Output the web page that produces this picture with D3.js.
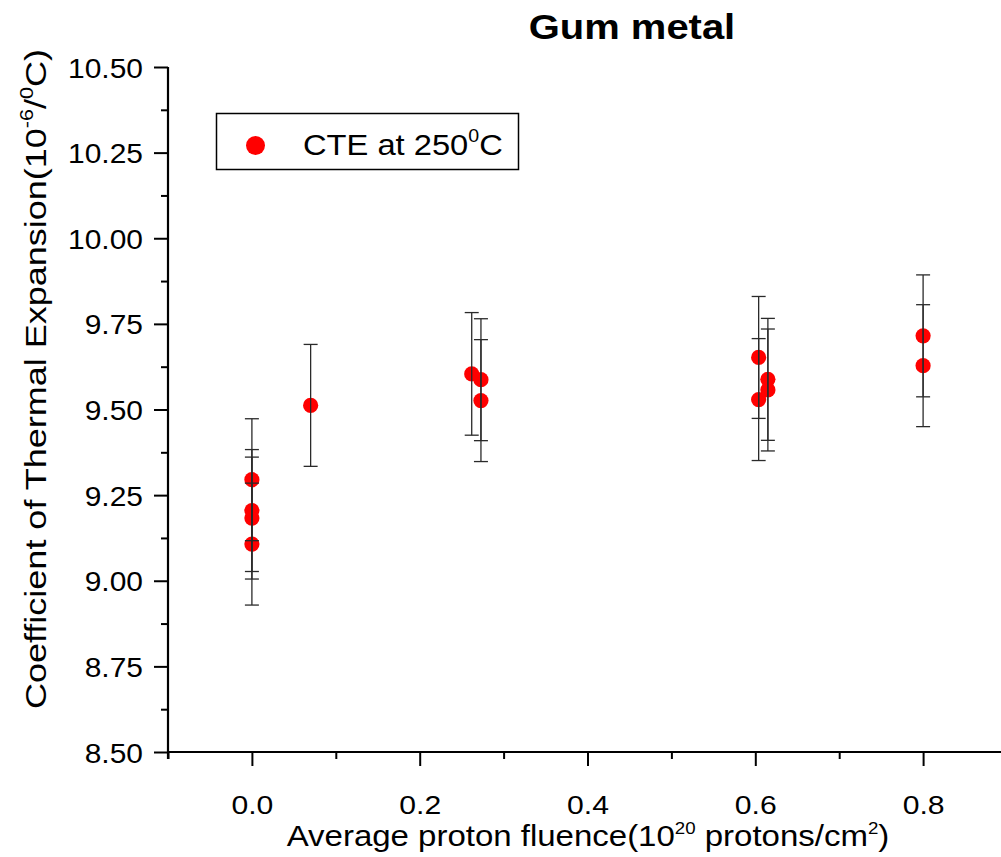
<!DOCTYPE html>
<html>
<head>
<meta charset="utf-8">
<script src="https://cdn.jsdelivr.net/npm/d3@7"></script>
<style>
  html, body { margin: 0; padding: 0; background: #fff; }
  svg { display: block; }
  text { font-family: "Liberation Sans", Arial, sans-serif; fill: #000; }
</style>
</head>
<body>
<svg id="chart" width="1001" height="857"></svg>
<script>
// ---- data ----
const fluence = [0, 0, 0, 0, 0.07, 0.262, 0.273, 0.273, 0.604, 0.604, 0.615, 0.615, 0.8, 0.8];
const cte     = [9.295, 9.205, 9.183, 9.107, 9.512, 9.604, 9.587, 9.526, 9.652, 9.529, 9.588, 9.557, 9.715, 9.628];
const cteErr  = [0.178, 0.178, 0.178, 0.178, 0.178, 0.179, 0.178, 0.178, 0.178, 0.178, 0.178, 0.178, 0.178, 0.178];
const xTicks  = [0.0, 0.2, 0.4, 0.6, 0.8];
const xMinor  = [-0.1, 0.1, 0.3, 0.5, 0.7];
const yTicks  = [8.50, 8.75, 9.00, 9.25, 9.50, 9.75, 10.00, 10.25, 10.50];
const yMinor  = [8.625, 8.875, 9.125, 9.375, 9.625, 9.875, 10.125, 10.375];
const titleText = "Gum metal";
const legendLabel = "CTE at 250";

const svg = d3.select("#chart");
const x = d3.scaleLinear().domain([-0.1, 0.9]).range([168, 1007]);
const y = d3.scaleLinear().domain([8.5, 10.5]).range([752, 67]);

// points
svg.append("g").selectAll("circle").data(fluence).join("circle")
  .attr("cx", d => x(d)).attr("cy", (d, i) => y(cte[i])).attr("r", 7.6)
  .attr("fill", "#ff0000");

// error bars (drawn over the points, as in the reference)
const eb = svg.append("g").attr("stroke", "#2a2a2a").attr("stroke-width", 1.3).attr("fill", "none");
fluence.forEach((f, i) => {
  const cx = x(f), y1 = y(cte[i] + cteErr[i]), y2 = y(cte[i] - cteErr[i]);
  eb.append("line").attr("x1", cx).attr("x2", cx).attr("y1", y1).attr("y2", y2);
  eb.append("line").attr("x1", cx - 7).attr("x2", cx + 7).attr("y1", y1).attr("y2", y1);
  eb.append("line").attr("x1", cx - 7).attr("x2", cx + 7).attr("y1", y2).attr("y2", y2);
});

// axes
const axY = svg.append("g").attr("transform", "translate(168,0)");
axY.call(d3.axisLeft(y).tickValues(yTicks).tickSize(14).tickFormat(d3.format(".2f")));
axY.append("g").call(d3.axisLeft(y).tickValues(yMinor).tickSize(7).tickFormat(""));
const axX = svg.append("g").attr("transform", "translate(0,752)");
axX.call(d3.axisBottom(x).tickValues(xTicks).tickSize(14).tickFormat(d3.format(".1f")));
axX.append("g").call(d3.axisBottom(x).tickValues(xMinor).tickSize(7).tickFormat(""));
svg.selectAll(".domain").attr("stroke", "#000").attr("stroke-width", 2.2);
svg.selectAll(".tick line").attr("stroke", "#000").attr("stroke-width", 2);
axX.selectAll(".domain").attr("d", "M168,0H1001");
axY.selectAll(".domain").attr("d", "M0,67V759");
axY.selectAll("g > .domain").filter(function(){ return this.parentNode !== axY.node(); }).remove();
axX.selectAll("g > .domain").filter(function(){ return this.parentNode !== axX.node(); }).remove();

axY.selectAll(".tick text")
  .attr("font-size", 28).attr("font-family", '"Liberation Sans", Arial, sans-serif')
  .attr("x", null).attr("dy", null).attr("text-anchor", "end")
  .attr("transform", "translate(-25,10) scale(1.07,1)");
axX.selectAll(".tick text")
  .attr("font-size", 26).attr("font-family", '"Liberation Sans", Arial, sans-serif')
  .attr("y", null).attr("dy", null).attr("text-anchor", "middle")
  .attr("transform", "translate(0,62) scale(1.16,1)");

// title
svg.append("text").attr("transform", "translate(632,39) scale(1.11,1)")
  .attr("text-anchor", "middle").attr("font-size", 36).attr("font-weight", "bold")
  .text(titleText);

// x label
const xl = svg.append("text").attr("transform", "translate(588,846) scale(1.1,1)")
  .attr("text-anchor", "middle").attr("font-size", 30);
xl.append("tspan").text("Average proton fluence(10");
xl.append("tspan").attr("font-size", 17).attr("dy", -12).text("20");
xl.append("tspan").attr("dy", 12).text(" protons/cm");
xl.append("tspan").attr("font-size", 17).attr("dy", -12).text("2");
xl.append("tspan").attr("dy", 12).text(")");

// y label
const yl = svg.append("text").attr("transform", "translate(46,379) rotate(-90) scale(1.2,1)")
  .attr("text-anchor", "middle").attr("font-size", 30);
yl.append("tspan").text("Coefficient of Thermal Expansion(10");
yl.append("tspan").attr("font-size", 18).attr("dy", -13).text("-6");
yl.append("tspan").attr("dy", 13).text("/");
yl.append("tspan").attr("font-size", 18).attr("dy", -13).text("0");
yl.append("tspan").attr("dy", 13).text("C)");

// legend
const lg = svg.append("g");
lg.append("rect").attr("x", 216.5).attr("y", 113.5).attr("width", 302).attr("height", 56)
  .attr("fill", "#fff").attr("stroke", "#000").attr("stroke-width", 1.5);
lg.append("circle").attr("cx", 255.5).attr("cy", 145.5).attr("r", 9.5).attr("fill", "#ff0000");
const lt = lg.append("text").attr("transform", "translate(303,155) scale(1.09,1)").attr("font-size", 30);
lt.append("tspan").text(legendLabel);
lt.append("tspan").attr("font-size", 18).attr("dy", -13).text("0");
lt.append("tspan").attr("dy", 13).text("C");
</script>
</body>
</html>
